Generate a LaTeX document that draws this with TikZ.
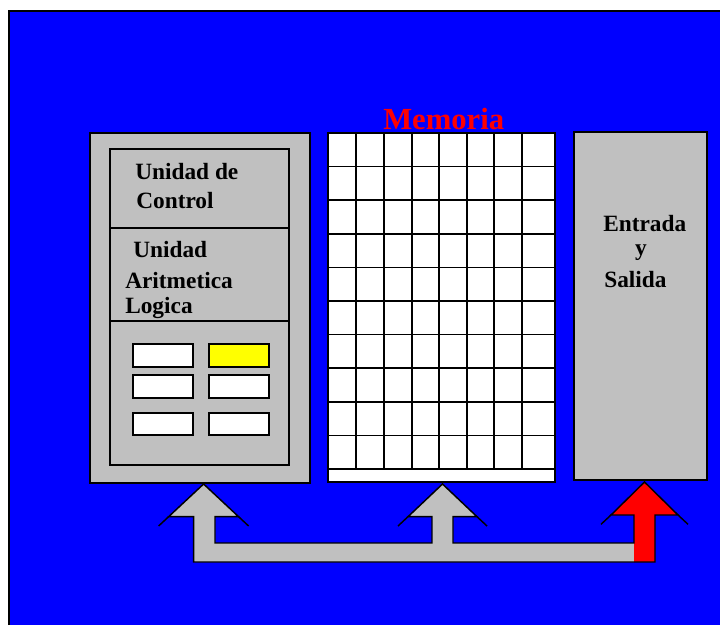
\documentclass[tikz,border=0pt]{standalone}
\usepackage{fontspec}
\setmainfont{Liberation Serif}
\definecolor{bgblue}{HTML}{0000FF}
\definecolor{lgray}{HTML}{C0C0C0}
\definecolor{yel}{HTML}{FFFF00}
\definecolor{rd}{HTML}{FF0000}
\begin{document}
\begin{tikzpicture}[x=0.75pt,y=-0.75pt,
  box/.style={draw=black, line width=1.3pt, fill=lgray},
  thin/.style={draw=black, line width=1.2pt},
  reg/.style={draw=black, line width=1.1pt, fill=white},
  lbl/.style={anchor=base west, inner sep=0pt, font=\fontsize{17.5}{20}\selectfont\bfseries},
  title/.style={anchor=base west, inner sep=0pt, text=rd, font=\fontsize{23}{26}\selectfont\bfseries},
  busline/.style={draw=black, line width=1.1pt, line join=miter}]
\useasboundingbox (0,0) rectangle (720,625);
\fill[white] (0,0) rectangle (720,625);
% background
\fill[bgblue] (9,11) rectangle (720,625);
\draw[line width=1.3pt] (9,625) -- (9,11) -- (720,11);

% CPU box
\draw[box] (90,133) rectangle (310,483);
\draw[box] (110,149) rectangle (289,465);
\draw[thin] (110,228) -- (289,228);
\draw[thin] (110,321) -- (289,321);
\node[lbl] (uc1) at (135,179) {Unidad de};
\node[lbl] (uc2) at (136,208) {Control};
\node[lbl] (ua1) at (133,257) {Unidad};
\node[lbl] (ua2) at (125,288) {Aritmetica};
\node[lbl] (ua3) at (125,313) {Logica};
\draw[reg] (133,344) rectangle (193,367);
\draw[reg, fill=yel] (209,344) rectangle (269,367);
\draw[reg] (133,375) rectangle (193,398);
\draw[reg] (209,375) rectangle (269,398);
\draw[reg] (133,413) rectangle (193,435);
\draw[reg] (209,413) rectangle (269,435);

% Memory
\node[title] (mem) at (383,129) {Memoria};
\draw[reg, line width=1.3pt] (328,133) rectangle (555,482);
\foreach \xx in {356,384,412,439,467,494,522}
  \draw[thin] (\xx,133) -- (\xx,469);
\foreach \yy in {166.6,200.2,233.8,267.4,301,334.6,368.2,401.8,435.4,469}
  \draw[thin] (328,\yy) -- (555,\yy);

% I/O
\draw[box] (574,132) rectangle (707,480);
\node[lbl] (io1) at (603,231) {Entrada};
\node[lbl, anchor=base] (io2) at (641,255) {y};
\node[lbl] (io3) at (604,287) {Salida};

% bus arrows
\fill[lgray] (193.6,562) -- (193.6,516.7) -- (168.6,516.7) -- (203.6,484) -- (238.6,516.7) -- (215,516.7) -- (215,543)
  -- (432,543) -- (432,516.7) -- (408,516.7) -- (442.5,484) -- (477,516.7) -- (453,516.7) -- (453,543)
  -- (634,543) -- (634,562) -- cycle;
\fill[rd] (634,562) -- (634,515) -- (611,515) -- (644.5,482) -- (678,515) -- (655,515) -- (655,562) -- cycle;
\draw[busline] (193.6,562) -- (193.6,516.7) -- (168.6,516.7) -- (203.6,484) -- (238.6,516.7) -- (215,516.7) -- (215,543)
  -- (432,543) -- (432,516.7) -- (408,516.7) -- (442.5,484) -- (477,516.7) -- (453,516.7) -- (453,543)
  -- (634,543) -- (634,515) -- (611,515) -- (644.5,482) -- (678,515) -- (655,515) -- (655,562) -- cycle;
% ticks extending arrowhead edges
\draw[busline] (168.6,516.7) -- ++(-10,9.3);
\draw[busline] (238.6,516.7) -- ++(10,9.3);
\draw[busline] (408,516.7) -- ++(-10,9.3);
\draw[busline] (477,516.7) -- ++(10,9.3);
\draw[busline] (611,515) -- ++(-10,9.3);
\draw[busline] (678,515) -- ++(10,9.3);
\end{tikzpicture}
\end{document}
